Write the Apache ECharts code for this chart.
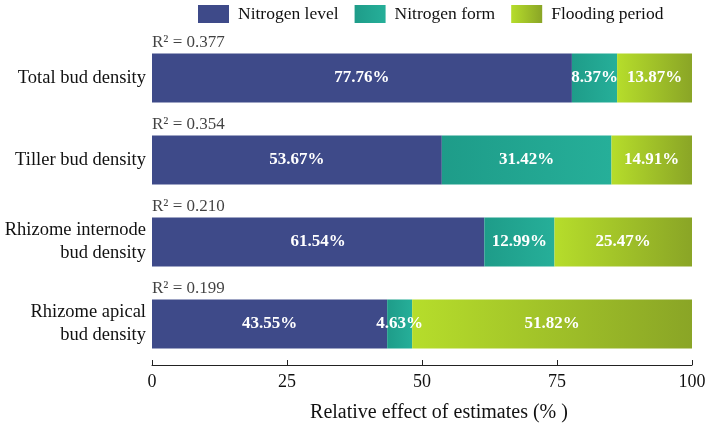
<!DOCTYPE html>
<html>
<head>
<meta charset="utf-8">
<script src="https://cdn.jsdelivr.net/npm/echarts@6/dist/echarts.min.js"></script>
<style>html,body{margin:0;padding:0;background:#fff;}#c{width:709px;height:428px;}</style>
</head>
<body>
<div id="c"></div>
<script>
const categories = ['Total bud density', 'Tiller bud density', 'Rhizome internode\nbud density', 'Rhizome apical\nbud density'];
const r2Labels = ['R² = 0.377', 'R² = 0.354', 'R² = 0.210', 'R² = 0.199'];
const nitrogenLevel = [77.76, 53.67, 61.54, 43.55];
const nitrogenForm = [8.37, 31.42, 12.99, 4.63];
const floodingPeriod = [13.87, 14.91, 25.47, 51.82];
const xTicks = [0, 25, 50, 75, 100];

const FONT = '"Liberation Serif", "Times New Roman", serif';
const chart = echarts.init(document.getElementById('c'));

const grad = (a, b) => new echarts.graphic.LinearGradient(0, 0, 1, 0, [{offset: 0, color: a}, {offset: 1, color: b}]);
const cLevel = '#3E4A89';
const cForm = grad('#1E9C89', '#26AF99');
const cFlood = grad('#B6DD2B', '#8AA526');

const barLabel = {
  show: true, position: 'inside', color: '#fff', fontFamily: FONT, fontWeight: 'bold', fontSize: 17,
  formatter: p => p.value.toFixed(2) + '%'
};

chart.setOption({
  animation: false,
  backgroundColor: '#fff',
  legend: {
    data: ['Nitrogen level', 'Nitrogen form', 'Flooding period'],
    left: 193, top: 0,
    itemWidth: 31, itemHeight: 18, itemGap: 16,
    icon: 'rect',
    textStyle: {fontFamily: FONT, fontSize: 17.5, color: '#111', padding: [0, 0, 0, 4]}
  },
  grid: {left: 152, right: 17, top: 37, bottom: 62, containLabel: false},
  xAxis: {
    type: 'value', min: xTicks[0], max: xTicks[xTicks.length - 1], interval: 25,
    name: 'Relative effect of estimates (% )', nameLocation: 'middle', nameGap: 38,
    nameTextStyle: {fontFamily: FONT, fontSize: 20, color: '#111', padding: [0, 0, 0, 34]},
    axisLine: {show: true, lineStyle: {color: '#222', width: 1}},
    axisTick: {show: true, inside: true, length: 5, lineStyle: {color: '#222'}},
    axisLabel: {fontFamily: FONT, fontSize: 18, color: '#111', margin: 8},
    splitLine: {show: false}
  },
  yAxis: {
    type: 'category', data: categories, inverse: true,
    axisLine: {show: false}, axisTick: {show: false},
    axisLabel: {fontFamily: FONT, fontSize: 18.5, color: '#111', margin: 6, lineHeight: 23, align: 'right'}
  },
  series: [
    {name: 'Nitrogen level', type: 'bar', stack: 's', data: nitrogenLevel, barWidth: 49,
     itemStyle: {color: cLevel}, label: barLabel},
    {name: 'Nitrogen form', type: 'bar', stack: 's', data: nitrogenForm, barWidth: 49,
     itemStyle: {color: cForm}, label: barLabel},
    {name: 'Flooding period', type: 'bar', stack: 's', data: floodingPeriod, barWidth: 49,
     itemStyle: {color: cFlood}, label: barLabel},
    {name: 'r2', type: 'scatter', symbolSize: 0, z: 10,
     data: categories.map((c, i) => [0, i]),
     label: {show: true, position: [0, 0], offset: [0, -35], align: 'left', verticalAlign: 'middle',
             fontFamily: FONT, fontSize: 17, color: '#111',
             formatter: p => r2Labels[p.dataIndex]}}
  ]
});
</script>
</body>
</html>
